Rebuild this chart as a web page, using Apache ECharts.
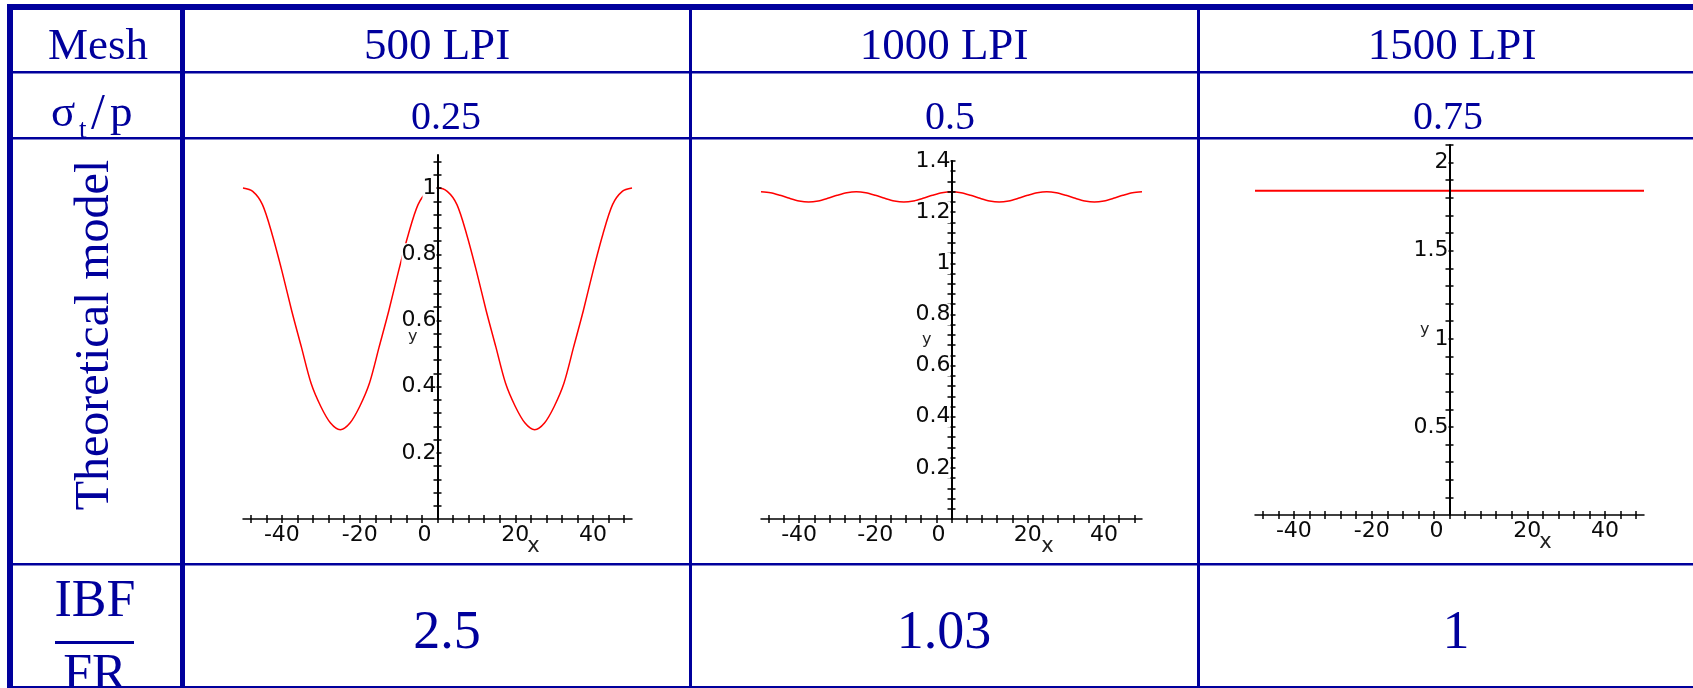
<!DOCTYPE html>
<html>
<head>
<meta charset="utf-8">
<script src="https://cdn.jsdelivr.net/npm/echarts@6/dist/echarts.min.js"></script>
<style>
  html, body { margin: 0; padding: 0; background: #fff; }
  #main { width: 1693px; height: 688px; }
</style>
</head>
<body>
<div id="main"></div>
<script>
// table text
const meshLabels = ['500 LPI', '1000 LPI', '1500 LPI'];
const sigmaLabels = ['0.25', '0.5', '0.75'];
const ratioLabels = ['2.5', '1.03', '1'];

// x samples shared by the two curves
const xVals = [-50, -47.5, -45, -42.5, -40, -37.5, -35, -32.5, -30, -27.5, -25, -22.5, -20, -17.5, -15, -12.5, -10, -7.5, -5, -2.5,
  0, 2.5, 5, 7.5, 10, 12.5, 15, 17.5, 20, 22.5, 25, 27.5, 30, 32.5, 35, 37.5, 40, 42.5, 45, 47.5, 50];
// 500 LPI curve
const y500 = [1.00, 0.99, 0.95, 0.86, 0.75, 0.63, 0.52, 0.41, 0.34, 0.29, 0.27, 0.29, 0.34, 0.41, 0.52, 0.63, 0.75, 0.86, 0.95, 0.99,
  1.00, 0.99, 0.95, 0.86, 0.75, 0.63, 0.52, 0.41, 0.34, 0.29, 0.27, 0.29, 0.34, 0.41, 0.52, 0.63, 0.75, 0.86, 0.95, 0.99, 1.00];
// 1000 LPI curve
const y1000 = [1.280, 1.276, 1.266, 1.254, 1.244, 1.240, 1.244, 1.254, 1.266, 1.276, 1.280, 1.276, 1.266, 1.254, 1.244, 1.240, 1.244, 1.254, 1.266, 1.276,
  1.280, 1.276, 1.266, 1.254, 1.244, 1.240, 1.244, 1.254, 1.266, 1.276, 1.280, 1.276, 1.266, 1.254, 1.244, 1.240, 1.244, 1.254, 1.266, 1.276, 1.280];
// 1500 LPI is flat
const x1500 = [-50, 50];
const y1500 = [1.84, 1.84];

// tick labels
const xTickLabels = [-40, -20, 0, 20, 40];
const yLabels500 = [0.2, 0.4, 0.6, 0.8, 1];
const yLabels1000 = [0.2, 0.4, 0.6, 0.8, 1, 1.2, 1.4];
const yLabels1500 = [0.5, 1, 1.5, 2];

const ink = '#00009c';
const axisInk = '#000';
const serif = '"Liberation Serif", "Times New Roman", serif';
const sans = '"DejaVu Sans", Verdana, sans-serif';

// small tick positions along the axes
function steps(from, to, step) {
  const out = [];
  for (let v = from; v <= to + 1e-9; v += step) out.push(+v.toFixed(3));
  return out;
}
const xMinor = steps(-48, 48, 4);

const plots = [
  { grid: { left: 243, top: 155, width: 389, height: 364 }, yMax: 1.1, yLabels: yLabels500, yMinor: steps(0.04, 1.08, 0.04), xs: xVals, ys: y500, lw: 1.5 },
  { grid: { left: 761, top: 161, width: 381, height: 358 }, yMax: 1.4, yLabels: yLabels1000, yMinor: steps(0.04, 1.4, 0.04), xs: xVals, ys: y1000, lw: 1.5 },
  { grid: { left: 1255, top: 145, width: 389, height: 370 }, yMax: 2.1, yLabels: yLabels1500, yMinor: steps(0.1, 2.1, 0.1), xs: x1500, ys: y1500, lw: 2 }
];

const grids = [], xAxes = [], yAxes = [], series = [];
const tickLine = { color: axisInk, width: 1.5 };
const labelFmt = v => String(+(+v).toFixed(2));
// Maple pushes the "0" under the origin a little to the left
const xLabelFmt = v => (+v === 0 ? '{z|0}' : labelFmt(v));
const labelFont = { fontFamily: sans, fontSize: 22, color: '#0a0a0a' };

plots.forEach((p, i) => {
  const half = p.grid.width / 2;
  grids.push(Object.assign({ containLabel: false }, p.grid));
  // main x axis, ticks pointing down
  xAxes.push({
    gridIndex: i, type: 'value', min: -50, max: 50, position: 'bottom', z: 5,
    axisLine: { onZero: false, lineStyle: { color: axisInk, width: 1.5 } },
    axisTick: { customValues: xMinor, length: 4, lineStyle: tickLine },
    axisLabel: Object.assign({ customValues: xTickLabels, margin: 5, formatter: xLabelFmt,
      rich: { z: Object.assign({ padding: [0, 26, 0, 0] }, labelFont) } }, labelFont),
    splitLine: { show: false },
    name: 'x', nameLocation: 'middle', nameGap: 17, nameMoveOverlap: false,
    nameTextStyle: { fontFamily: sans, fontSize: 21, color: '#222', padding: [0, 0, 0, 192] }
  });
  // twin x axis moved down onto y = 0, ticks pointing up
  xAxes.push({
    gridIndex: i, type: 'value', min: -50, max: 50, position: 'top', offset: -p.grid.height, z: 5,
    axisLine: { onZero: false, lineStyle: { opacity: 0 } },
    axisTick: { customValues: xMinor, length: 4, lineStyle: tickLine },
    axisLabel: { show: false }, splitLine: { show: false }
  });
  // main y axis moved onto x = 0, ticks pointing left
  yAxes.push({
    gridIndex: i, type: 'value', min: 0, max: p.yMax, position: 'left', offset: -half, z: 5,
    axisLine: { onZero: false, lineStyle: { color: axisInk, width: 2 } },
    axisTick: { customValues: p.yMinor, length: 4, lineStyle: tickLine },
    axisLabel: Object.assign({ customValues: p.yLabels, margin: 1, backgroundColor: '#fff', formatter: labelFmt }, labelFont),
    splitLine: { show: false },
    name: 'y', nameLocation: 'middle', nameGap: 20, nameRotate: 0, nameMoveOverlap: false,
    nameTextStyle: { fontFamily: sans, fontSize: 16, color: '#222' }
  });
  // twin y axis, ticks pointing right
  yAxes.push({
    gridIndex: i, type: 'value', min: 0, max: p.yMax, position: 'right', offset: -half, z: 5,
    axisLine: { onZero: false, lineStyle: { opacity: 0 } },
    axisTick: { customValues: p.yMinor, length: 4, lineStyle: tickLine },
    axisLabel: { show: false }, splitLine: { show: false }
  });
  series.push({
    type: 'line', xAxisIndex: i * 2, yAxisIndex: i * 2, z: 2,
    data: p.xs.map((x, k) => [x, p.ys[k]]),
    showSymbol: false, smooth: 0.3,
    lineStyle: { color: '#ff0000', width: p.lw }
  });
});

// table frame and text
const colCenters = [437, 944, 1452];
function bar(x, y, w, h) {
  return { type: 'rect', shape: { x, y, width: w, height: h }, style: { fill: ink }, z: 1 };
}
function txt(text, x, y, size, align, extra) {
  const a = align || 'center';
  return Object.assign({
    type: 'text', x, y, z: 1,
    style: { text, font: size + 'px ' + serif, fill: ink, align: a, textAlign: a,
      verticalAlign: 'middle', textVerticalAlign: 'middle' }
  }, extra || {});
}
const frame = [
  bar(7, 4, 1686, 6),       // top border
  bar(7, 4, 6, 684),        // left border
  bar(180, 4, 5, 684),      // thick separator after the label column
  bar(689, 4, 3, 684),
  bar(1197, 4, 3, 684),
  bar(7, 71, 1686, 2.5),
  bar(7, 137, 1686, 2.5),
  bar(7, 563, 1686, 2.5),
  bar(7, 686, 1686, 2.5),
  bar(55, 641, 79, 3)       // fraction bar
];
const texts = [
  txt('Mesh', 98, 47, 45),
  txt('σ', 51, 114, 45, 'left'),
  txt('t', 79, 131, 27, 'left'),
  txt('/', 91, 115, 50, 'left'),
  txt('p', 110, 114, 45, 'left'),
  txt('Theoretical model', 95, 335, 48, 'center', { rotation: Math.PI / 2 }),
  txt('IBF', 95, 602, 52),
  txt('FR', 95, 676, 52)
];
const sigmaX = [446, 950, 1448];
const ratioX = [447, 944, 1456];
meshLabels.forEach((t, i) => texts.push(txt(t, colCenters[i], 47, 45)));
sigmaLabels.forEach((t, i) => texts.push(txt(t, sigmaX[i], 118, 40)));
ratioLabels.forEach((t, i) => texts.push(txt(t, ratioX[i], 634, 54)));

const chart = echarts.init(document.getElementById('main'));
chart.setOption({
  animation: false,
  backgroundColor: '#fff',
  grid: grids,
  xAxis: xAxes,
  yAxis: yAxes,
  series: series,
  graphic: frame.concat(texts)
});
</script>
</body>
</html>
